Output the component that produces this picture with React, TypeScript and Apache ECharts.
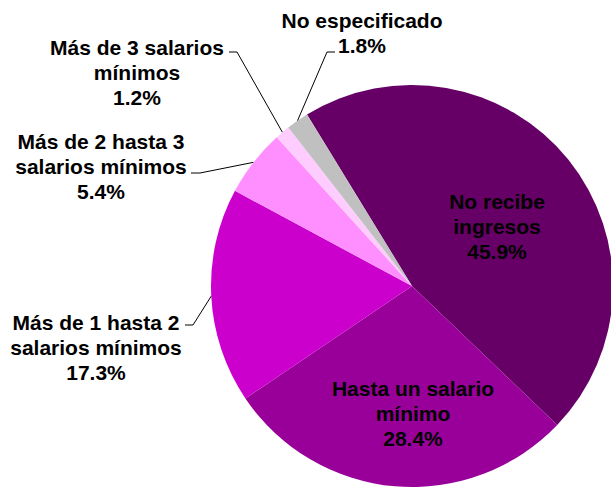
import React, { useEffect, useRef } from "react";
import * as echarts from "echarts";

const categories = [
  "No recibe\ningresos",
  "Hasta un salario\nmínimo",
  "Más de 1 hasta 2\nsalarios mínimos",
  "Más de 2 hasta 3\nsalarios mínimos",
  "Más de 3 salarios\nmínimos",
  "No especificado",
];
const percentages = [45.9, 28.4, 17.3, 5.4, 1.2, 1.8];
const colors = ["#660066", "#990099", "#CC00CC", "#FF8FFF", "#FFCCFF", "#C0C0C0"];

// label block centres and leader-line elbows (layout only)
const labelCenters: [number, number][] = [
  [497, 226],
  [413, 413],
  [96, 347],
  [101, 166],
  [137, 72],
  [362, 33],
];
const leaderElbows: ([number, number] | null)[][] = [
  [null, null],
  [null, null],
  [[193, 325], [185, 325]],
  [[200, 173], [191, 173]],
  [[237, 52], [229, 52]],
  [[327, 52], [335, 52]],
];

export default function App() {
  const ref = useRef<HTMLDivElement>(null);
  useEffect(() => {
    if (!ref.current) return;
    const chart = echarts.init(ref.current, undefined, { renderer: "svg" });
    const data = categories.map((name, i) => ({
      name,
      value: percentages[i],
      itemStyle: { color: colors[i] },
      labelLine: { show: i >= 2 },
    }));
    chart.setOption({
      animation: false,
      backgroundColor: "#ffffff",
      series: [
        {
          type: "pie",
          center: [412, 286],
          radius: 201,
          startAngle: 121.5,
          clockwise: true,
          avoidLabelOverlap: false,
          data,
          itemStyle: { borderWidth: 0 },
          label: {
            show: true,
            position: "outside",
            overflow: "none",
            formatter: (p: any) => `${p.name}\n${Number(p.value).toFixed(1)}%`,
            fontFamily: "Liberation Sans, Arial, sans-serif",
            fontWeight: "bold",
            fontSize: 21,
            lineHeight: 25,
            color: "#000000",
            align: "center",
          },
          labelLine: {
            show: true,
            lineStyle: { color: "#000000", width: 1 },
          },
          labelLayout: (params: any) => {
            const i = params.dataIndex;
            const [x, y] = labelCenters[i];
            const res: any = {
              x,
              y,
              align: "center",
              verticalAlign: "middle",
              width: 260,
              hideOverlap: false,
            };
            const el = leaderElbows[i];
            if (el[0] && params.labelLinePoints) {
              res.labelLinePoints = [params.labelLinePoints[0], el[0], el[1]];
            }
            return res;
          },
        },
      ],
    });
    return () => chart.dispose();
  }, []);
  return (
    <div
      ref={ref}
      style={{ position: "fixed", left: 0, top: 0, width: 611, height: 489 }}
    />
  );
}
